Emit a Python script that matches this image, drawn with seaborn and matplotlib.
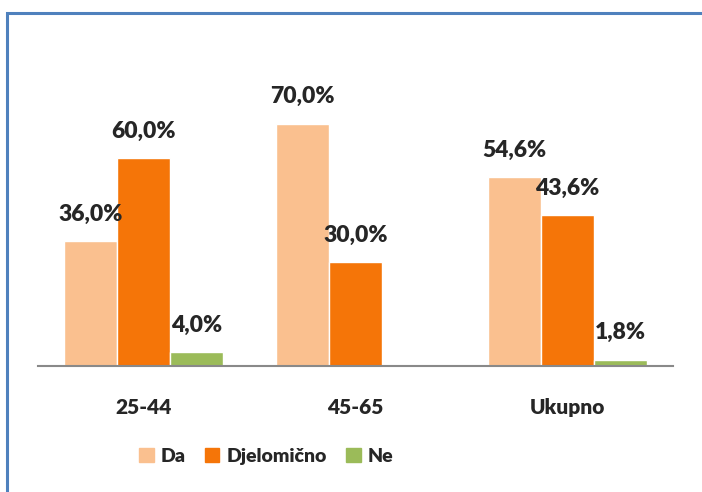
import seaborn as sns
import matplotlib.pyplot as plt
import pandas as pd
from matplotlib.patches import Rectangle

#Data
groups = ['25-44', '45-65', 'Ukupno']
series = ['Da', 'Djelomično', 'Ne']
da = [36.0, 70.0, 54.6]
djelomicno = [60.0, 30.0, 43.6]
ne = [4.0, 0.0, 1.8]
colors = ['#FAC08F', '#F57508', '#9BBB59']

rows = []
for i, g in enumerate(groups):
    for s, vals in zip(series, [da, djelomicno, ne]):
        rows.append({'grupa': g, 'odgovor': s, 'vrijednost': vals[i]})
df = pd.DataFrame(rows)

sns.set_style("white")
plt.rcParams['font.family'] = ['Lato', 'DejaVu Sans']
W = 'heavy'

fig = plt.figure(figsize=(7.02, 4.92), dpi=100)
ax = fig.add_axes([38/702, 0.256, 635/702, 0.633])
sns.barplot(data=df, x='grupa', y='vrijednost', hue='odgovor', order=groups,
            hue_order=series, palette=colors, width=0.75, saturation=1,
            ax=ax, legend=True)

ax.set_xlim(-0.5, 2.5)
ax.set_ylim(0, 90)
ax.set_xlabel('')
ax.set_ylabel('')
ax.set_yticks([])
sns.despine(ax=ax, left=True)
ax.spines['bottom'].set_color('#898989')
ax.spines['bottom'].set_linewidth(1.5)
ax.tick_params(axis='x', length=0, pad=23)
for t in ax.get_xticklabels():
    t.set_fontsize(15)
    t.set_fontweight(W)

#value labels (skip empty bars)
for cont in ax.containers:
    for p in cont.patches:
        h = p.get_height()
        if h <= 0:
            continue
        ax.annotate(('%.1f%%' % h).replace('.', ','),
                    (p.get_x() + p.get_width()/2, h),
                    xytext=(0, 12), textcoords='offset points',
                    ha='center', va='bottom', fontsize=16.5, fontweight=W)

ax.get_legend().remove()
handles = [Rectangle((0, 0), 1, 1, color=c) for c in colors]
fig.legend(handles, series, loc='center', bbox_to_anchor=(266/702, 0.072),
           ncol=3, frameon=False, prop={'size': 14, 'weight': W},
           handlelength=0.75, handleheight=0.75, handletextpad=0.35,
           columnspacing=1.0)

#blue chart border (only top and left visible)
fig.patches.append(Rectangle((7/702, -0.1), 1.0, (492-13)/492 + 0.1,
                             transform=fig.transFigure, fill=False,
                             edgecolor='#4F81BD', linewidth=2.2))

fig.savefig('out.png', dpi=100)
